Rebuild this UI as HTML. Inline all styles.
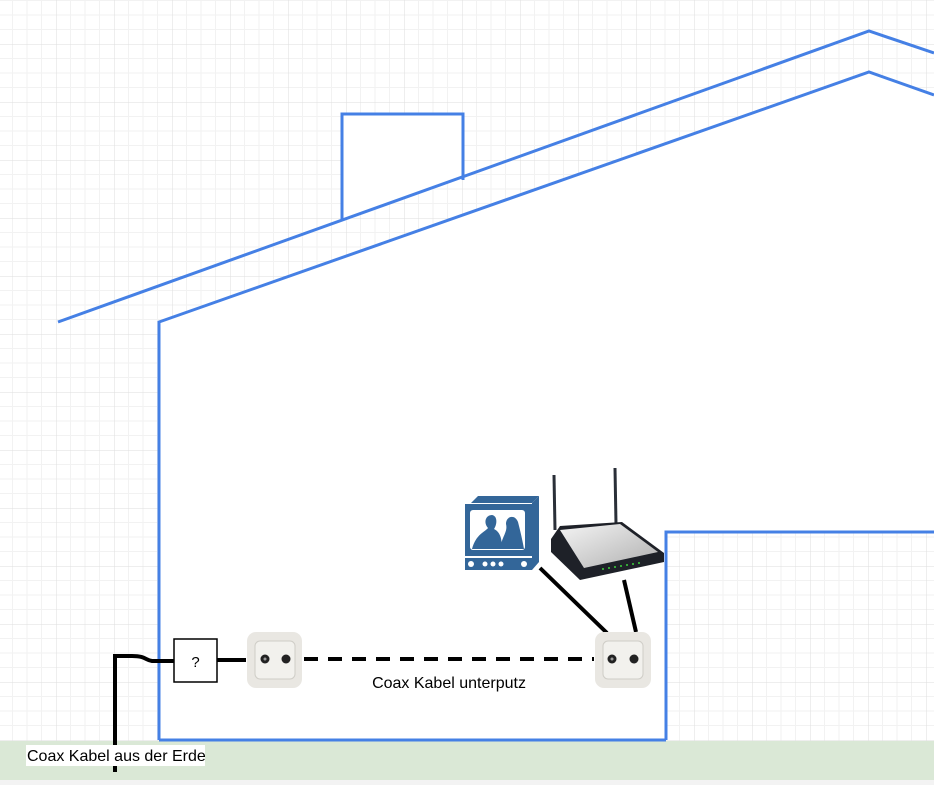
<!DOCTYPE html>
<html><head><meta charset="utf-8"><style>
html,body{margin:0;padding:0;background:#fff}
svg{display:block}
</style></head><body>
<svg width="934" height="785" viewBox="0 0 934 785" xmlns="http://www.w3.org/2000/svg">
<defs>
<pattern id="g" x="-2" y="-14" width="58" height="58" patternUnits="userSpaceOnUse">
<path d="M14.5 0V58M29 0V58M43.5 0V58M0 14.5H58M0 29H58M0 43.5H58" stroke="#f2f2f2" stroke-width="1" fill="none"/>
<path d="M0 0V58M0 0H58" stroke="#dedede" stroke-width="1" fill="none"/>
</pattern>
<linearGradient id="rt" x1="0" y1="0" x2="1" y2="1"><stop offset="0" stop-color="#f4f4f4"/><stop offset="1" stop-color="#b0b0b0"/></linearGradient>
</defs>
<rect width="934" height="785" fill="#fff"/>
<rect width="934" height="742" fill="url(#g)"/>
<polygon points="159,322 869,72 934,95 934,532 666,532 666,740 159,740" fill="#fff"/>
<polygon points="342,114 463,114 463,178 342,220" fill="#fff"/>
<rect x="0" y="741" width="934" height="39" fill="#dae8d6"/>
<rect x="0" y="780" width="934" height="5" fill="#f3f3f3"/>
<g stroke="#4580e5" stroke-width="3" fill="none">
<polyline points="58,322 869,31 934,53"/>
<polyline points="159,740 159,322 869,72 934,95"/>
<polyline points="342,220 342,114 463,114 463,180"/>
<polyline points="666,740 666,532 934,532"/>
<line x1="159" y1="740" x2="666" y2="740"/>
</g>
<g stroke="#000" stroke-width="4" fill="none">
<path d="M115,772 V656 H132 C146,656 145,660 152,661 H174"/>
<line x1="217" y1="660" x2="246" y2="660"/>
<line x1="304" y1="659" x2="594" y2="659" stroke-dasharray="14,10"/>
<line x1="540" y1="568" x2="607" y2="633"/>
<line x1="624" y1="580" x2="636" y2="632"/>
</g>
<rect x="174" y="639" width="43" height="43" fill="#fff" stroke="#000" stroke-width="1.5"/>
<text x="195.5" y="667" font-family="Liberation Sans, sans-serif" font-size="15" text-anchor="middle">?</text>
<g>
<rect x="247" y="632" width="55" height="56" rx="9" fill="#e9e7e2"/>
<rect x="255" y="641" width="40" height="38" rx="5" fill="#f2f1ed" stroke="#cfcdc7"/>
<circle cx="265" cy="659" r="4.5" fill="#222"/><circle cx="265" cy="659" r="1.5" fill="#999"/>
<circle cx="286" cy="659" r="4.5" fill="#222"/>
<rect x="595" y="632" width="56" height="56" rx="9" fill="#e9e7e2"/>
<rect x="603" y="641" width="40" height="38" rx="5" fill="#f2f1ed" stroke="#cfcdc7"/>
<circle cx="612" cy="659" r="4.5" fill="#222"/><circle cx="612" cy="659" r="1.5" fill="#999"/>
<circle cx="634" cy="659" r="4.5" fill="#222"/>
</g>
<g>
<polygon points="478,496 539,496 532,503 471,503" fill="#336699"/>
<polygon points="532,503 539,496 539,562 532,570" fill="#336699"/>
<rect x="465" y="504" width="67" height="52" fill="#336699"/>
<rect x="470" y="510" width="55" height="40" rx="3" fill="#fff"/>
<path d="M472,549 C476,534 485,532 488,528 C483,522 486,515 492,515 C498,516 497,525 494,529 C500,532 502,538 502,549Z" fill="#336699"/>
<path d="M500,549 C502,536 508,532 506,524 C506,516 515,514 518,522 C520,530 522,538 524,549Z" fill="#336699"/>
<rect x="465" y="558" width="67" height="12" fill="#336699"/>
<circle cx="471" cy="564" r="3" fill="#fff"/><circle cx="485" cy="564" r="2.5" fill="#fff"/><circle cx="493" cy="564" r="2.5" fill="#fff"/><circle cx="501" cy="564" r="2.5" fill="#fff"/><circle cx="524" cy="564" r="3" fill="#fff"/>
</g>
<g>
<line x1="554" y1="475" x2="555" y2="530" stroke="#2a2f38" stroke-width="3"/>
<line x1="615" y1="468" x2="616" y2="524" stroke="#2a2f38" stroke-width="3"/>
<polygon points="551,539 560,526 622,522 664,553 664,562 580,580 551,552" fill="#1e2128"/>
<polygon points="560,530 620,524 658,552 584,568" fill="url(#rt)"/>
<g fill="#3bd23b"><circle cx="603" cy="569" r="1"/><circle cx="609" cy="568" r="1"/><circle cx="615" cy="567" r="1"/><circle cx="621" cy="566" r="1"/><circle cx="627" cy="565" r="1"/><circle cx="633" cy="564" r="1"/><circle cx="639" cy="563" r="1"/></g>
</g>
<text x="449" y="688" font-family="Liberation Sans, sans-serif" font-size="16" text-anchor="middle">Coax Kabel unterputz</text>
<rect x="26" y="745" width="179" height="21" fill="#fff"/>
<text x="27" y="761" font-family="Liberation Sans, sans-serif" font-size="16">Coax Kabel aus der Erde</text>
</svg>
</body></html>
